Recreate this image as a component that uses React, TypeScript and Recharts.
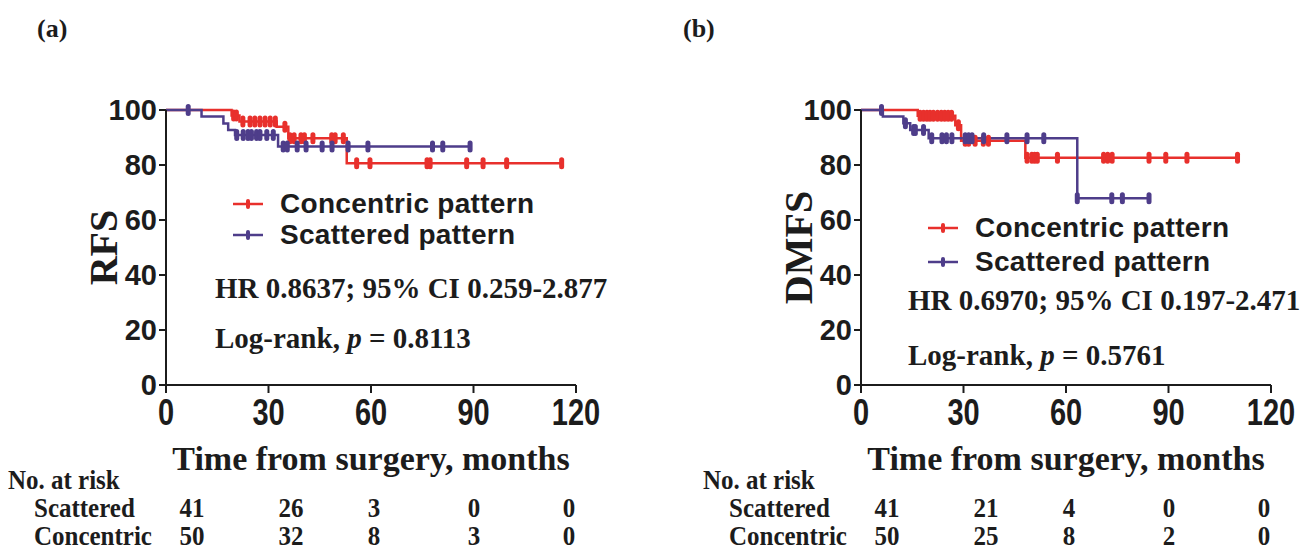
import { LineChart, Line, XAxis, YAxis, Legend } from "recharts";

const TIME_TICKS = [0, 30, 60, 90, 120];
const SURV_TICKS = [0, 20, 40, 60, 80, 100];

// (a) RFS: [month, survival %] after each event, plus censoring times
const rfsConcentricSteps = [[0, 100], [19.2, 98], [21.5, 95.8], [32.4, 93.9], [35.8, 89.7], [52.9, 80.6]];
const rfsConcentricCensored = [19.8, 20.6, 22.5, 24.6, 26, 27.5, 29, 30.5, 32, 34.8, 36.3, 37.5, 39.5, 40.5, 43, 48.5, 49.5, 51.9, 55.8, 59.7, 76.4, 77.3, 88, 92.8, 99.7, 115.8];
const rfsScatteredSteps = [[0, 100], [10.4, 97.6], [16.8, 95.1], [18.2, 92.7], [20.2, 90.9], [32.8, 86.7]];
const rfsScatteredCensored = [6.5, 20.7, 22.6, 24, 25, 26.5, 27.5, 29.5, 31.4, 34.3, 35.5, 38.4, 41, 45.7, 48.6, 53.3, 59.1, 78, 81, 89];

// (b) DMFS
const dmfsConcentricSteps = [[0, 100], [16.6, 97.9], [27.6, 94.5], [29.3, 88.8], [48.1, 82.6]];
const dmfsConcentricCensored = [17.3, 18.3, 19.3, 20.2, 21.2, 22.4, 23.5, 24.5, 25.5, 26.5, 28.5, 30.5, 31.5, 33.4, 35.8, 37.3, 48.6, 50, 50.8, 51.6, 57.5, 71, 72.2, 73.5, 84.3, 89.2, 95.4, 110.2];
const dmfsScatteredSteps = [[0, 100], [6.4, 97.6], [12.4, 95.2], [14.4, 92.7], [19.8, 89.7], [63.3, 67.9]];
const dmfsScatteredCensored = [6.0, 13.0, 15.4, 15.9, 18.3, 20.7, 23.7, 25, 26.6, 30.5, 31.5, 32.5, 35.9, 42.7, 48.6, 53.5, 63.3, 73.4, 76.5, 84.3];

// numbers at risk at 0, 30, 60, 90, 120 months
const rfsRiskScattered = [41, 26, 3, 0, 0];
const rfsRiskConcentric = [50, 32, 8, 3, 0];
const dmfsRiskScattered = [41, 21, 4, 0, 0];
const dmfsRiskConcentric = [50, 25, 8, 2, 0];

const RED = "#e8302c";
const PURPLE = "#4e3d8a";
const INK = "#1c1c1c";
const SANS = '"Liberation Sans", Arial, sans-serif';
const SERIF = '"Liberation Serif", "Times New Roman", serif';

const CHART_W = 610;
const CHART_H = 480;
const PLOT_X = 166;
const RISK_COL_X = [26, 125, 208, 308, 403];

type Pt = { t: number; s: number; c?: boolean };

function buildCurve(steps: number[][], censored: number[]): Pt[] {
  const pts: Pt[] = steps.map(([t, s]) => ({ t, s }));
  for (const t of censored) {
    let s = 100;
    for (const [st, sv] of steps) if (st <= t) s = sv;
    pts.push({ t, s, c: true });
  }
  return pts.sort((a, b) => a.t - b.t || (a.c ? 1 : 0) - (b.c ? 1 : 0));
}

const censorDot = (color: string) => (props: any) => {
  const { cx, cy, payload, index } = props;
  if (!payload?.c) return <g key={`n${index}`} />;
  return (
    <line key={`c${index}`} x1={cx} x2={cx} y1={cy - 3.5} y2={cy + 3.5}
      stroke={color} strokeWidth={5} strokeLinecap="round" />
  );
};

function TimeTick(props: any) {
  const { x, y, payload } = props;
  return (
    <g transform={`translate(${x},${y})`}>
      <text transform="scale(1,1.25)" y={21} textAnchor="middle" fill={INK}
        fontSize={29} fontWeight={700} fontFamily={SANS}>
        {payload.value}
      </text>
    </g>
  );
}

const SERIES = [
  { name: "Concentric pattern", color: RED },
  { name: "Scattered pattern", color: PURPLE },
];

const legendContent = (rowH: number) => () => (
  <div style={{ display: "flex", flexDirection: "column" }}>
    {SERIES.map((s) => (
      <div key={s.name} style={{ height: rowH, display: "flex", alignItems: "center" }}>
        <svg width={30} height={12}>
          <line x1={0} x2={30} y1={6} y2={6} stroke={s.color} strokeWidth={2.5} />
          <line x1={15} x2={15} y1={3} y2={9} stroke={s.color} strokeWidth={4} strokeLinecap="round" />
        </svg>
        <span style={{ marginLeft: 17, fontFamily: SANS, fontSize: 28, fontWeight: 700, letterSpacing: 0.3, color: INK, lineHeight: 1, whiteSpace: "nowrap" }}>
          {s.name}
        </span>
      </div>
    ))}
  </div>
);

interface PanelProps {
  left: number;
  yLabel: string;
  concentric: Pt[];
  scattered: Pt[];
  legendTop: number;
  legendRow: number;
}

function KMPanel({ left, yLabel, concentric, scattered, legendTop, legendRow }: PanelProps) {
  const axisStroke = { stroke: INK, strokeWidth: 2 };
  return (
    <div style={{ position: "absolute", left, top: 0 }}>
      <LineChart width={CHART_W} height={CHART_H} margin={{ top: 110, right: 34, bottom: 5, left: 106 }}>
        <XAxis
          type="number"
          dataKey="t"
          domain={[0, 120]}
          ticks={TIME_TICKS}
          interval={0}
          height={90}
          tickSize={8}
          tickMargin={6}
          axisLine={axisStroke}
          tickLine={axisStroke}
          tick={TimeTick}
          label={{
            value: "Time from surgery, months",
            position: "insideBottom",
            offset: 5,
            style: { fontFamily: SERIF, fontSize: 34, fontWeight: 700, fill: INK },
          }}
        />
        <YAxis
          type="number"
          domain={[0, 100]}
          ticks={SURV_TICKS}
          interval={0}
          width={60}
          tickSize={7}
          tickMargin={2}
          axisLine={axisStroke}
          tickLine={axisStroke}
          tick={{ fill: INK, fontSize: 29, fontWeight: 700, fontFamily: SANS }}
          label={{
            value: yLabel,
            angle: -90,
            position: "insideLeft",
            offset: -3,
            style: { textAnchor: "middle", fontFamily: SERIF, fontSize: 40, fontWeight: 700, fill: INK },
          }}
        />
        <Legend
          layout="vertical"
          align="center"
          verticalAlign="middle"
          content={legendContent(legendRow)}
          wrapperStyle={{ left: 233, top: legendTop, width: "auto" }}
        />
        <Line data={concentric} dataKey="s" name="Concentric pattern" type="stepAfter"
          stroke={RED} strokeWidth={2.5} dot={censorDot(RED)} activeDot={false} isAnimationActive={false} />
        <Line data={scattered} dataKey="s" name="Scattered pattern" type="stepAfter"
          stroke={PURPLE} strokeWidth={2.5} dot={censorDot(PURPLE)} activeDot={false} isAnimationActive={false} />
      </LineChart>
    </div>
  );
}

function RiskTable({ x0, scatteredRisk, concentricRisk }: { x0: number; scatteredRisk: number[]; concentricRisk: number[] }) {
  const txt = { fontFamily: SERIF, fontSize: 25, fontWeight: 700, fill: INK };
  const row = (label: string, vals: number[], base: number) => (
    <g>
      <text transform={`translate(${x0 + 34},${base}) scale(1,1.1)`} {...txt}>{label}</text>
      {vals.map((v, i) => (
        <text key={i} transform={`translate(${x0 + PLOT_X + RISK_COL_X[i]},${base}) scale(1,1.1)`} textAnchor="middle" {...txt}>
          {v}
        </text>
      ))}
    </g>
  );
  return (
    <g>
      <text transform={`translate(${x0 + 8},489) scale(1,1.1)`} {...txt}>No. at risk</text>
      {row("Scattered", scatteredRisk, 517)}
      {row("Concentric", concentricRisk, 545)}
    </g>
  );
}

export default function App() {
  const hr = { fontFamily: SERIF, fontSize: 29, fontWeight: 700, fill: INK };
  return (
    <div style={{ position: "absolute", left: 0, top: 0, width: 1304, height: 552, background: "#fff", overflow: "hidden" }}>
      <KMPanel left={0} yLabel="RFS"
        concentric={buildCurve(rfsConcentricSteps, rfsConcentricCensored)}
        scattered={buildCurve(rfsScatteredSteps, rfsScatteredCensored)}
        legendTop={188} legendRow={31} />
      <KMPanel left={695} yLabel="DMFS"
        concentric={buildCurve(dmfsConcentricSteps, dmfsConcentricCensored)}
        scattered={buildCurve(dmfsScatteredSteps, dmfsScatteredCensored)}
        legendTop={211} legendRow={34} />
      <svg width={1304} height={552} style={{ position: "absolute", left: 0, top: 0, pointerEvents: "none" }}>
        <text x={37} y={37} fontFamily={SERIF} fontSize={26} fontWeight={700} fill={INK}>(a)</text>
        <text x={683} y={37} fontFamily={SERIF} fontSize={26} fontWeight={700} fill={INK}>(b)</text>

        <text x={215} y={298} {...hr}>HR 0.8637; 95% CI 0.259-2.877</text>
        <text x={215} y={348} {...hr}>Log-rank, <tspan fontStyle="italic">p</tspan> = 0.8113</text>
        <text x={908} y={310} {...hr}>HR 0.6970; 95% CI 0.197-2.471</text>
        <text x={908} y={365} {...hr}>Log-rank, <tspan fontStyle="italic">p</tspan> = 0.5761</text>

        <RiskTable x0={0} scatteredRisk={rfsRiskScattered} concentricRisk={rfsRiskConcentric} />
        <RiskTable x0={695} scatteredRisk={dmfsRiskScattered} concentricRisk={dmfsRiskConcentric} />
      </svg>
    </div>
  );
}
